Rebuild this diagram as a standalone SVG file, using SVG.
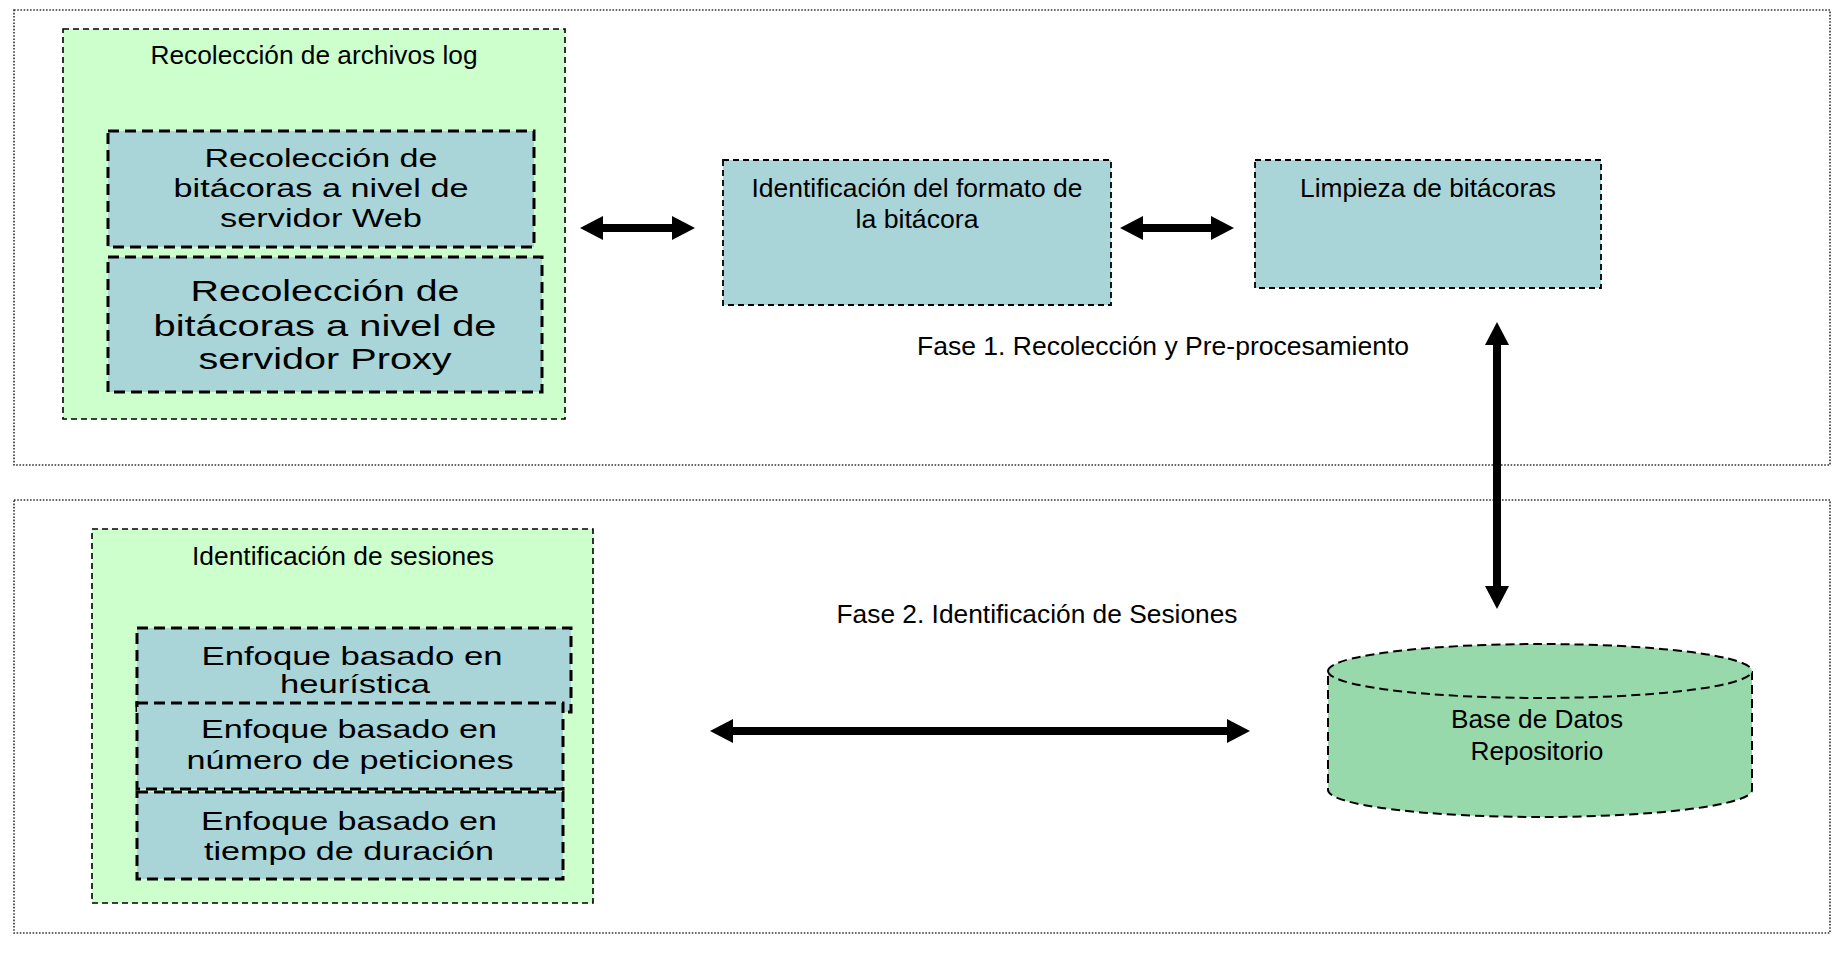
<svg xmlns="http://www.w3.org/2000/svg" width="1835" height="960" viewBox="0 0 1835 960">
<style>
.phase{fill:none;stroke:#333;stroke-width:1.6;stroke-dasharray:1.6 1.6}
.group{fill:#ccffcc;stroke:#000;stroke-width:1.6;stroke-dasharray:6 4}
.step{fill:#a9d5d8;stroke:#000;stroke-width:3;stroke-dasharray:11 6}
.stepthin{fill:#a9d5d8;stroke:#000;stroke-width:1.8;stroke-dasharray:6 4}
.db{fill:#98d9ab;stroke:#000;stroke-width:2;stroke-dasharray:9 5}
.cond{font-family:"Liberation Sans",Arial,sans-serif;font-size:25.5px;fill:#000;text-anchor:middle}
.wide{font-family:"Liberation Sans",Arial,sans-serif;font-size:26px;fill:#000;text-anchor:middle}
.wideL{font-family:"Liberation Sans",Arial,sans-serif;font-size:30px;fill:#000;text-anchor:middle}
.conn{stroke:#000;stroke-width:8;fill:none;marker-start:url(#ah);marker-end:url(#ah)}
</style>
<defs>
<marker id="ah" viewBox="0 0 23 24" refX="5" refY="12" markerWidth="23" markerHeight="24" markerUnits="userSpaceOnUse" orient="auto-start-reverse">
<path d="M0,0 L23,12 L0,24 Z" fill="#000"/>
</marker>
</defs>
<rect width="1835" height="960" fill="#fff"/>

<g id="fase1">
<rect class="phase" x="14" y="10" width="1816" height="455"/>
<text class="cond" x="1163" y="355" textLength="492" lengthAdjust="spacingAndGlyphs">Fase 1. Recolección y Pre-procesamiento</text>
</g>
<g id="fase2">
<rect class="phase" x="14" y="500" width="1816" height="433"/>
<text class="cond" x="1037" y="623" textLength="401" lengthAdjust="spacingAndGlyphs">Fase 2. Identificación de Sesiones</text>
</g>

<g id="recoleccion">
<rect class="group" x="63" y="29" width="502" height="390"/>
<text class="cond" x="314" y="64" textLength="327" lengthAdjust="spacingAndGlyphs">Recolección de archivos log</text>
</g>
<g id="web">
<rect class="step" x="108" y="131" width="426" height="116"/>
<text class="wide" x="321" y="167" textLength="233" lengthAdjust="spacingAndGlyphs">Recolección de</text>
<text class="wide" x="321" y="197" textLength="295" lengthAdjust="spacingAndGlyphs">bitácoras a nivel de</text>
<text class="wide" x="321" y="227" textLength="202" lengthAdjust="spacingAndGlyphs">servidor Web</text>
</g>
<g id="proxy">
<rect class="step" x="108" y="257" width="434" height="135"/>
<text class="wideL" x="325" y="301" textLength="269" lengthAdjust="spacingAndGlyphs">Recolección de</text>
<text class="wideL" x="325" y="336" textLength="343" lengthAdjust="spacingAndGlyphs">bitácoras a nivel de</text>
<text class="wideL" x="325" y="369" textLength="253" lengthAdjust="spacingAndGlyphs">servidor Proxy</text>
</g>
<g id="formato">
<rect class="stepthin" x="723" y="160" width="388" height="145"/>
<text class="cond" x="917" y="197" textLength="331" lengthAdjust="spacingAndGlyphs">Identificación del formato de</text>
<text class="cond" x="917" y="228" textLength="123" lengthAdjust="spacingAndGlyphs">la bitácora</text>
</g>
<g id="limpieza">
<rect class="stepthin" x="1255" y="160" width="346" height="128"/>
<text class="cond" x="1428" y="197" textLength="256" lengthAdjust="spacingAndGlyphs">Limpieza de bitácoras</text>
</g>

<g id="sesiones">
<rect class="group" x="92" y="529" width="501" height="374"/>
<text class="cond" x="343" y="565" textLength="302" lengthAdjust="spacingAndGlyphs">Identificación de sesiones</text>
</g>
<g id="heuristica">
<rect class="step" x="137" y="628" width="434" height="84"/>
<text class="wide" x="352" y="665" textLength="301" lengthAdjust="spacingAndGlyphs">Enfoque basado en</text>
<text class="wide" x="355" y="693" textLength="150" lengthAdjust="spacingAndGlyphs">heurística</text>
</g>
<g id="peticiones">
<rect class="step" x="137" y="703" width="426" height="86"/>
<text class="wide" x="349" y="738" textLength="296" lengthAdjust="spacingAndGlyphs">Enfoque basado en</text>
<text class="wide" x="350" y="769" textLength="327" lengthAdjust="spacingAndGlyphs">número de peticiones</text>
</g>
<g id="duracion">
<rect class="step" x="137" y="792" width="426" height="87"/>
<text class="wide" x="349" y="830" textLength="296" lengthAdjust="spacingAndGlyphs">Enfoque basado en</text>
<text class="wide" x="349" y="860" textLength="290" lengthAdjust="spacingAndGlyphs">tiempo de duración</text>
</g>

<g id="basedatos">
<path class="db" d="M1328,671 A212,27 0 0 1 1752,671 L1752,790 A212,27 0 0 1 1328,790 Z"/>
<path class="db" d="M1328,671 A212,27 0 0 0 1752,671" fill="none"/>
<text class="cond" x="1537" y="728" textLength="172" lengthAdjust="spacingAndGlyphs">Base de Datos</text>
<text class="cond" x="1537" y="760" textLength="133" lengthAdjust="spacingAndGlyphs">Repositorio</text>
</g>

<g id="connectors">
<line class="conn" x1="598" y1="228" x2="677" y2="228"/>
<line class="conn" x1="1138" y1="228" x2="1216" y2="228"/>
<line class="conn" x1="1497" y1="340" x2="1497" y2="591"/>
<line class="conn" x1="728" y1="731" x2="1232" y2="731"/>
</g>
</svg>
